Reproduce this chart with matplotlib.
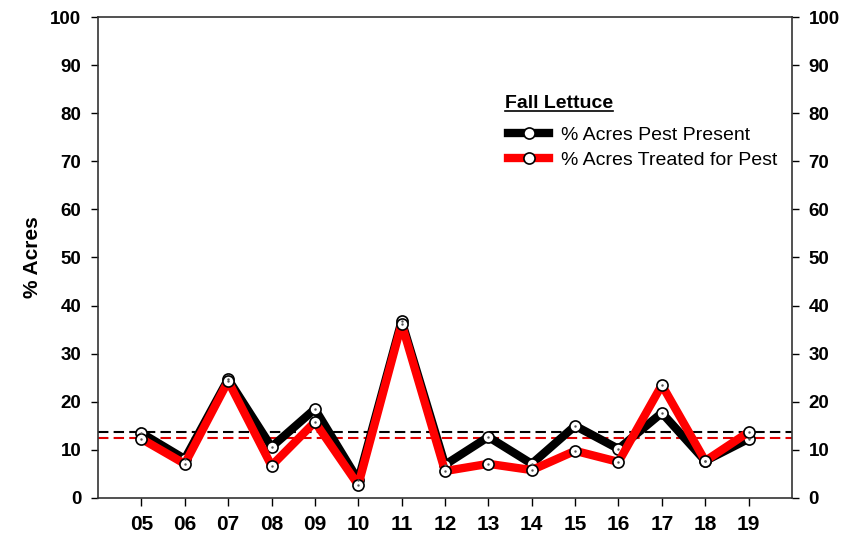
import numpy as np
import matplotlib
matplotlib.use('Agg')
import matplotlib.pyplot as plt

plt.rcParams['font.family'] = ['Liberation Sans', 'DejaVu Sans']

years = ['05', '06', '07', '08', '09', '10', '11', '12', '13', '14', '15', '16', '17', '18', '19']
present = [13.5, 8.1, 24.7, 10.6, 18.5, 3.7, 36.8, 6.9, 12.7, 7.1, 15.0, 10.2, 17.7, 7.7, 12.3]
treated = [12.3, 7.1, 24.3, 6.7, 15.8, 2.7, 36.2, 5.6, 7.1, 5.8, 9.8, 7.5, 23.5, 7.7, 13.7]

x = np.arange(5, 5 + len(years))

fig = plt.figure(figsize=(8.42, 5.35), dpi=100)
ax = fig.add_axes([0.1164, 0.0692, 0.8242, 0.899])

# period averages
ax.axhline(np.mean(present), color='black', ls=(0, (5, 2.5)), lw=1.5, zorder=1)
ax.axhline(np.mean(treated), color='#e00000', ls=(0, (5, 2.5)), lw=1.5, zorder=1)

mk = dict(marker='o', ms=8, mfc='white', mec='black', mew=1.2)
l1, = ax.plot(x, present, color='black', lw=6, zorder=2, **mk, label='% Acres Pest Present')
l2, = ax.plot(x, treated, color='red', lw=6, zorder=3, **mk, label='% Acres Treated for Pest')
ax.plot(x, present, ls='none', marker='.', ms=1.5, color='#555555', zorder=4)
ax.plot(x, treated, ls='none', marker='.', ms=1.5, color='#555555', zorder=4)

ax.set_xlim(4, 20)
ax.set_ylim(0, 100)
ax.set_xticks(x)
ax.set_xticklabels(years, fontsize=15, fontweight='bold')
ax.set_yticks(range(0, 101, 10))
ax.tick_params(axis='y', labelsize=13.5, right=True, labelright=True, direction='out',
               length=5, width=1, pad=7)
ax.tick_params(axis='x', direction='out', length=6, width=1, pad=6)
for t in ax.yaxis.get_major_ticks():
    t.label1.set_fontweight('bold')
    t.label2.set_fontweight('bold')
for s in ax.spines.values():
    s.set_linewidth(1.2)
    s.set_color('#333333')

ax.set_ylabel('% Acres', fontsize=15, fontweight='bold')
ax.yaxis.set_label_coords(-0.081, 0.5)

leg = ax.legend(handles=[l1, l2], loc='upper left', bbox_to_anchor=(0.591, 0.772),
                frameon=False, fontsize=14, handlelength=2.1, handletextpad=0.6,
                labelspacing=0.35, borderpad=0, borderaxespad=0)

title = fig.text(0.5998, 1 - 103 / 535, 'Fall Lettuce', fontsize=14, fontweight='bold', va='center')
fig.canvas.draw()
bb = title.get_window_extent().transformed(fig.transFigure.inverted())
fig.add_artist(plt.Line2D([bb.x0, bb.x1], [bb.y0 + 0.001, bb.y0 + 0.001], color='black', lw=1.2))

fig.savefig('out.png', dpi=100)
